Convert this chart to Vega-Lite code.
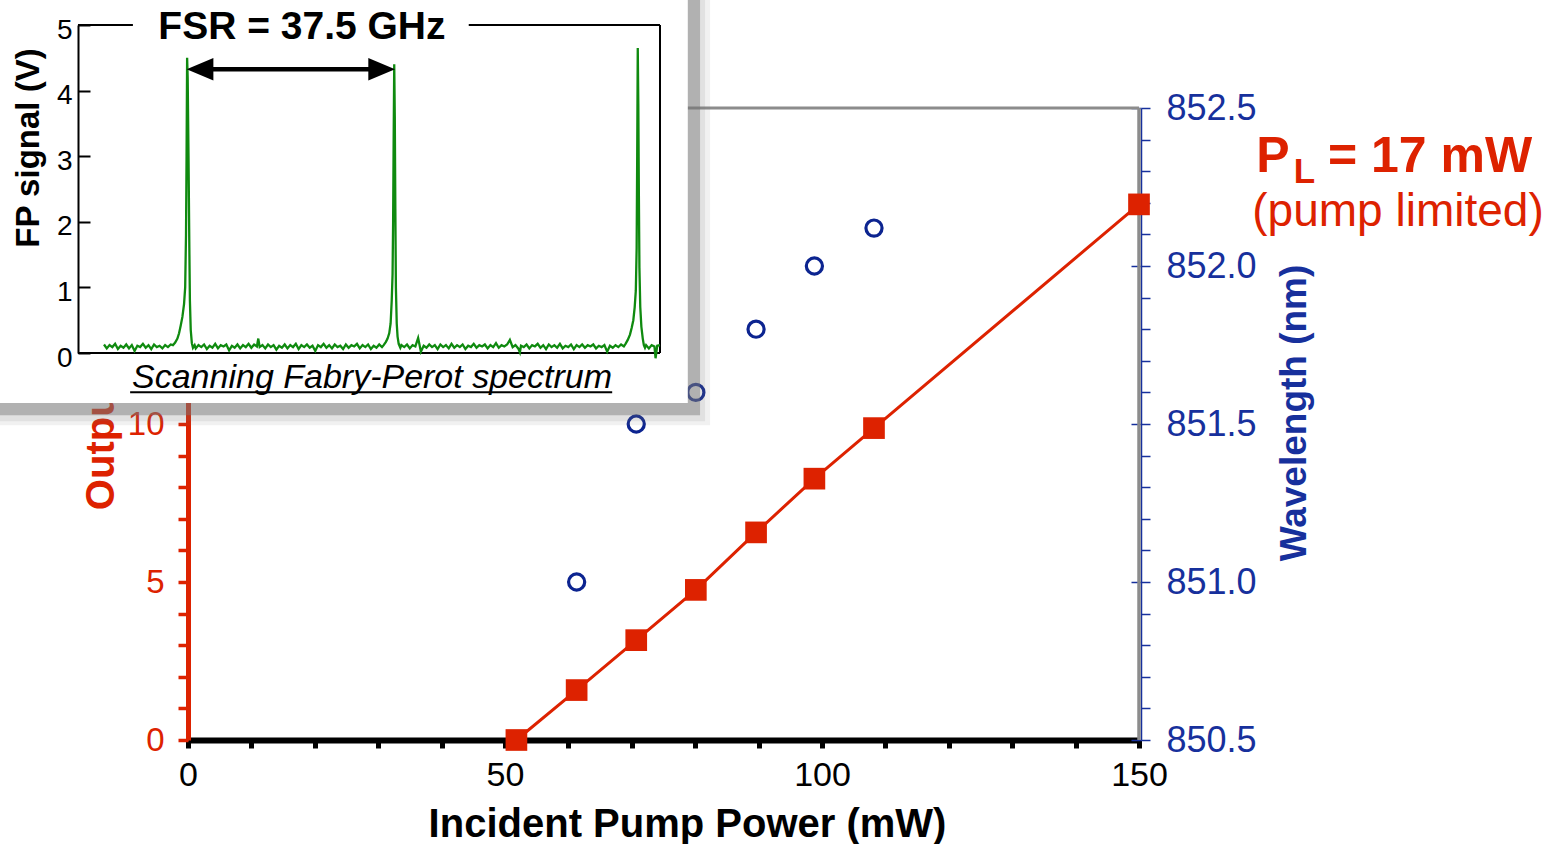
{
  "$schema": "https://vega.github.io/schema/vega-lite/v6.json",
  "width": 951,
  "height": 632,
  "autosize": {"type": "none"},
  "padding": {"left": 188, "top": 108, "right": 418, "bottom": 104},
  "background": "white",
  "config": {
    "font": "Liberation Sans",
    "view": {"stroke": null},
    "axis": {"grid": false, "labelOverlap": false, "labelFlush": false, "labelFont": "Liberation Sans", "titleFont": "Liberation Sans"}
  },
  "datasets": {
    "main": [
      {"power": 51.8, "output": 0},
      {"power": 61.3, "output": 1.58, "wavelength": 851.0},
      {"power": 70.7, "output": 3.16, "wavelength": 851.5},
      {"power": 80.1, "output": 4.75, "wavelength": 851.6},
      {"power": 89.6, "output": 6.57, "wavelength": 851.8},
      {"power": 98.8, "output": 8.27, "wavelength": 852.0},
      {"power": 108.2, "output": 9.87, "wavelength": 852.12},
      {"power": 150, "output": 16.95}
    ],
    "fp": [
      {"t":0,"v":0.13},{"t":0.5,"v":0.07},{"t":1,"v":0.12},{"t":1.5,"v":0.09},{"t":2,"v":0.14},{"t":2.5,"v":0.06},{"t":3,"v":0.11},{"t":3.5,"v":0.08},{"t":4,"v":0.13},{"t":4.5,"v":0.07},{"t":5,"v":0.12},{"t":5.5,"v":0.03},{"t":6,"v":0.11},{"t":6.5,"v":0.09},{"t":7,"v":0.14},{"t":7.5,"v":0.08},{"t":8,"v":0.12},{"t":8.5,"v":0.06},{"t":9,"v":0.13},{"t":9.5,"v":0.09},{"t":10,"v":0.11},{"t":10.5,"v":0.07},{"t":11,"v":0.12},{"t":11.5,"v":0.09},{"t":12,"v":0.13},
      {"t":12.4,"v":0.12},{"t":12.8,"v":0.16},{"t":13.2,"v":0.22},{"t":13.5,"v":0.3},{"t":13.8,"v":0.42},{"t":14.1,"v":0.55},{"t":14.4,"v":0.75},{"t":14.6,"v":1.0},{"t":14.75,"v":1.8},{"t":14.85,"v":3.0},{"t":14.95,"v":4.5},{"t":15.05,"v":4.2},{"t":15.2,"v":3.0},{"t":15.35,"v":1.6},{"t":15.45,"v":0.8},{"t":15.6,"v":0.35},{"t":15.8,"v":0.15},{"t":16,"v":0.08},{"t":16.3,"v":0.12},
      {"t":16.5,"v":0.07},{"t":17,"v":0.12},{"t":17.5,"v":0.09},{"t":18,"v":0.13},{"t":18.5,"v":0.06},{"t":19,"v":0.11},{"t":19.5,"v":0.08},{"t":20,"v":0.14},{"t":20.5,"v":0.07},{"t":21,"v":0.12},{"t":21.5,"v":0.1},{"t":22,"v":0.13},{"t":22.5,"v":0.04},{"t":23,"v":0.11},{"t":23.5,"v":0.08},{"t":24,"v":0.13},{"t":24.5,"v":0.07},{"t":25,"v":0.12},{"t":25.5,"v":0.09},{"t":26,"v":0.14},{"t":26.5,"v":0.08},{"t":27,"v":0.13},{"t":27.5,"v":0.1},{"t":27.75,"v":0.22},{"t":28,"v":0.09},{"t":28.5,"v":0.12},{"t":29,"v":0.07},{"t":29.5,"v":0.13},{"t":30,"v":0.09},{"t":30.5,"v":0.12},{"t":31,"v":0.05},{"t":31.5,"v":0.11},{"t":32,"v":0.08},{"t":32.5,"v":0.13},{"t":33,"v":0.07},{"t":33.5,"v":0.12},{"t":34,"v":0.09},{"t":34.5,"v":0.14},{"t":35,"v":0.06},{"t":35.5,"v":0.12},{"t":36,"v":0.09},{"t":36.5,"v":0.13},{"t":37,"v":0.08},{"t":37.5,"v":0.11},{"t":38,"v":0.03},{"t":38.5,"v":0.12},{"t":39,"v":0.09},{"t":39.5,"v":0.14},{"t":40,"v":0.08},{"t":40.5,"v":0.12},{"t":41,"v":0.07},{"t":41.5,"v":0.13},{"t":42,"v":0.09},{"t":42.5,"v":0.11},{"t":43,"v":0.06},{"t":43.5,"v":0.13},{"t":44,"v":0.08},{"t":44.5,"v":0.12},{"t":45,"v":0.1},{"t":45.5,"v":0.14},{"t":46,"v":0.07},{"t":46.5,"v":0.12},{"t":47,"v":0.09},{"t":47.5,"v":0.13},{"t":48,"v":0.06},{"t":48.5,"v":0.11},{"t":49,"v":0.08},{"t":49.5,"v":0.13},{"t":50,"v":0.09},
      {"t":50.3,"v":0.12},{"t":50.7,"v":0.17},{"t":51,"v":0.22},{"t":51.3,"v":0.3},{"t":51.55,"v":0.45},{"t":51.75,"v":0.8},{"t":51.9,"v":1.2},{"t":52,"v":2.0},{"t":52.1,"v":3.3},{"t":52.2,"v":4.4},{"t":52.3,"v":3.6},{"t":52.4,"v":2.2},{"t":52.5,"v":1.0},{"t":52.65,"v":0.45},{"t":52.8,"v":0.25},{"t":53,"v":0.14},{"t":53.3,"v":0.08},
      {"t":53.5,"v":0.12},{"t":54,"v":0.09},{"t":54.5,"v":0.13},{"t":55,"v":0.07},{"t":55.5,"v":0.12},{"t":56,"v":0.1},{"t":56.5,"v":0.23},{"t":57,"v":0.02},{"t":57.5,"v":0.11},{"t":58,"v":0.08},{"t":58.5,"v":0.13},{"t":59,"v":0.09},{"t":59.5,"v":0.12},{"t":60,"v":0.06},{"t":60.5,"v":0.13},{"t":61,"v":0.09},{"t":61.5,"v":0.12},{"t":62,"v":0.07},{"t":62.5,"v":0.14},{"t":63,"v":0.08},{"t":63.5,"v":0.12},{"t":64,"v":0.09},{"t":64.5,"v":0.13},{"t":65,"v":0.06},{"t":65.5,"v":0.11},{"t":66,"v":0.09},{"t":66.5,"v":0.14},{"t":67,"v":0.08},{"t":67.5,"v":0.12},{"t":68,"v":0.1},{"t":68.5,"v":0.13},{"t":69,"v":0.07},{"t":69.5,"v":0.12},{"t":70,"v":0.09},{"t":70.5,"v":0.15},{"t":71,"v":0.08},{"t":71.5,"v":0.12},{"t":72,"v":0.1},{"t":72.5,"v":0.13},{"t":73,"v":0.2},{"t":73.5,"v":0.09},{"t":74,"v":0.12},{"t":74.5,"v":0.07},{"t":74.8,"v":0.01},{"t":75,"v":0.11},{"t":75.5,"v":0.09},{"t":76,"v":0.13},{"t":76.5,"v":0.07},{"t":77,"v":0.12},{"t":77.5,"v":0.1},{"t":78,"v":0.14},{"t":78.5,"v":0.08},{"t":79,"v":0.12},{"t":79.5,"v":0.06},{"t":80,"v":0.13},{"t":80.5,"v":0.09},{"t":81,"v":0.12},{"t":81.5,"v":0.08},{"t":82,"v":0.14},{"t":82.5,"v":0.07},{"t":83,"v":0.11},{"t":83.5,"v":0.09},{"t":84,"v":0.13},{"t":84.5,"v":0.06},{"t":85,"v":0.12},{"t":85.5,"v":0.09},{"t":86,"v":0.13},{"t":86.5,"v":0.08},{"t":87,"v":0.12},{"t":87.5,"v":0.1},{"t":88,"v":0.13},{"t":88.5,"v":0.07},{"t":89,"v":0.11},{"t":89.5,"v":0.09},{"t":90,"v":0.12},{"t":90.5,"v":0.02},{"t":91,"v":0.11},{"t":91.5,"v":0.08},{"t":92,"v":0.12},{"t":92.5,"v":0.09},{"t":93,"v":0.13},{"t":93.5,"v":0.1},
      {"t":93.8,"v":0.14},{"t":94.2,"v":0.2},{"t":94.6,"v":0.28},{"t":94.9,"v":0.38},{"t":95.2,"v":0.5},{"t":95.45,"v":0.7},{"t":95.65,"v":0.95},{"t":95.8,"v":1.6},{"t":95.9,"v":3.0},{"t":96,"v":4.65},{"t":96.1,"v":3.8},{"t":96.2,"v":2.4},{"t":96.3,"v":1.3},{"t":96.45,"v":0.7},{"t":96.65,"v":0.4},{"t":96.9,"v":0.22},{"t":97.1,"v":0.12},{"t":97.3,"v":0.08},
      {"t":97.5,"v":0.12},{"t":98,"v":0.07},{"t":98.5,"v":0.12},{"t":99,"v":0.1},{"t":99.2,"v":-0.08},{"t":99.5,"v":0.11},{"t":100,"v":0.12}
    ]
  },
  "layer": [
    {
      "data": {"name": "main"},
      "resolve": {"axis": {"x": "independent", "y": "independent"}},
      "layer": [
        {
          "data": {"values": [{}]},
          "mark": {"type": "rule", "color": "#8c8c8c", "strokeWidth": 3},
          "encoding": {
            "x": {"datum": 0, "type": "quantitative", "scale": {"domain": [0, 150], "nice": false, "zero": false}, "axis": null},
            "x2": {"datum": 150},
            "y": {"datum": 20, "type": "quantitative", "scale": {"domain": [0, 20], "nice": false, "zero": false}, "axis": null}
          }
        },
        {
          "data": {"values": [{}]},
          "mark": {"type": "rule", "color": "#8c8c8c", "strokeWidth": 3.5},
          "encoding": {
            "x": {"datum": 150, "type": "quantitative", "scale": {"domain": [0, 150], "nice": false, "zero": false}, "axis": null},
            "y": {"datum": 0, "type": "quantitative", "scale": {"domain": [0, 20], "nice": false, "zero": false}, "axis": null},
            "y2": {"datum": 20}
          }
        },
        {
          "mark": {"type": "line", "color": "#dd2200", "strokeWidth": 3},
          "encoding": {
            "x": {
              "field": "power", "type": "quantitative",
              "scale": {"domain": [0, 150], "nice": false, "zero": false},
              "axis": {
                "orient": "bottom",
                "values": [0, 10, 20, 30, 40, 50, 60, 70, 80, 90, 100, 110, 120, 130, 140, 150],
                "labelExpr": "datum.value % 50 === 0 ? datum.label : ''",
                "domainColor": "black", "domainWidth": 6,
                "tickColor": "black", "tickWidth": 5, "tickSize": 8,
                "labelColor": "black", "labelFontSize": 34, "labelPadding": 10,
                "title": "Incident Pump Power (mW)", "titleColor": "black", "titleFontSize": 40, "titleFontWeight": "bold",
                "titleX": 499, "titleY": 96, "titleAlign": "center", "titleBaseline": "alphabetic"
              }
            },
            "y": {
              "field": "output", "type": "quantitative",
              "scale": {"domain": [0, 20], "nice": false, "zero": false},
              "axis": {
                "orient": "left",
                "values": [0, 1, 2, 3, 4, 5, 6, 7, 8, 9, 10, 11, 12, 13, 14, 15, 16, 17, 18, 19, 20],
                "labelExpr": "datum.value % 5 === 0 ? datum.label : ''",
                "domainColor": "#dd2200", "domainWidth": 5,
                "tickColor": "#dd2200", "tickWidth": 3.5, "tickSize": 10,
                "labelColor": "#dd2200", "labelFontSize": 33, "labelPadding": 14,
                "title": "Output Power (mW)", "titleColor": "#dd2200", "titleFontSize": 40, "titleFontWeight": "bold",
                "titleAngle": 270, "titleX": -75, "titleY": 215, "titleAlign": "center", "titleBaseline": "alphabetic"
              }
            }
          }
        },
        {
          "mark": {"type": "point", "shape": "square", "filled": true, "size": 470, "color": "#dd2200", "opacity": 1},
          "encoding": {
            "x": {"field": "power", "type": "quantitative", "scale": {"domain": [0, 150], "nice": false, "zero": false}, "axis": null},
            "y": {"field": "output", "type": "quantitative", "scale": {"domain": [0, 20], "nice": false, "zero": false}, "axis": null}
          }
        },
        {
          "data": {"values": [{}]},
          "mark": {"type": "text", "text": "P", "fontSize": 50, "fontWeight": "bold", "color": "#dd2200", "align": "left", "baseline": "alphabetic"},
          "encoding": {
            "x": {"datum": 168.5, "type": "quantitative", "scale": {"domain": [0, 150], "nice": false, "zero": false}, "axis": null},
            "y": {"datum": 17.98, "type": "quantitative", "scale": {"domain": [0, 20], "nice": false, "zero": false}, "axis": null}
          }
        },
        {
          "data": {"values": [{}]},
          "mark": {"type": "text", "text": "L", "fontSize": 35, "fontWeight": "bold", "color": "#dd2200", "align": "left", "baseline": "alphabetic"},
          "encoding": {
            "x": {"datum": 174.4, "type": "quantitative", "scale": {"domain": [0, 150], "nice": false, "zero": false}, "axis": null},
            "y": {"datum": 17.62, "type": "quantitative", "scale": {"domain": [0, 20], "nice": false, "zero": false}, "axis": null}
          }
        },
        {
          "data": {"values": [{}]},
          "mark": {"type": "text", "text": "= 17 mW", "fontSize": 50, "fontWeight": "bold", "color": "#dd2200", "align": "left", "baseline": "alphabetic"},
          "encoding": {
            "x": {"datum": 179.8, "type": "quantitative", "scale": {"domain": [0, 150], "nice": false, "zero": false}, "axis": null},
            "y": {"datum": 17.98, "type": "quantitative", "scale": {"domain": [0, 20], "nice": false, "zero": false}, "axis": null}
          }
        },
        {
          "data": {"values": [{}]},
          "mark": {"type": "text", "text": "(pump limited)", "fontSize": 46, "color": "#dd2200", "align": "center", "baseline": "alphabetic"},
          "encoding": {
            "x": {"datum": 190.85, "type": "quantitative", "scale": {"domain": [0, 150], "nice": false, "zero": false}, "axis": null},
            "y": {"datum": 16.28, "type": "quantitative", "scale": {"domain": [0, 20], "nice": false, "zero": false}, "axis": null}
          }
        }
      ]
    },
    {
      "data": {"name": "main"},
      "layer": [
        {
          "mark": {"type": "point", "shape": "circle", "filled": false, "size": 260, "strokeWidth": 3.2, "color": "#0c2490", "opacity": 1},
          "encoding": {
            "x": {"field": "power", "type": "quantitative", "scale": {"domain": [0, 150], "nice": false, "zero": false}, "axis": null},
            "y": {
              "field": "wavelength", "type": "quantitative",
              "scale": {"domain": [850.5, 852.5], "nice": false, "zero": false},
              "axis": {
                "orient": "right", "offset": 2,
                "values": [850.5, 850.6, 850.7, 850.8, 850.9, 851.0, 851.1, 851.2, 851.3, 851.4, 851.5, 851.6, 851.7, 851.8, 851.9, 852.0, 852.1, 852.2, 852.3, 852.4, 852.5],
                "labelExpr": "abs(datum.value * 2 - round(datum.value * 2)) < 0.001 ? format(datum.value, '.1f') : ''",
                "domainColor": "#17309c", "domainWidth": 1.5,
                "tickColor": "#17309c", "tickWidth": 1.5, "tickSize": 9,
                "labelColor": "#17309c", "labelFontSize": 36, "labelPadding": 16,
                "title": "Wavelength (nm)", "titleColor": "#17309c", "titleFontSize": 37, "titleFontWeight": "bold",
                "titleAngle": 270, "titleX": 164, "titleY": 304.5, "titleAlign": "center", "titleBaseline": "alphabetic"
              }
            }
          }
        },
        {
          "mark": {"type": "point", "shape": "circle", "filled": false, "size": 260, "opacity": 0},
          "encoding": {
            "x": {"field": "power", "type": "quantitative", "scale": {"domain": [0, 150], "nice": false, "zero": false}, "axis": null},
            "y": {
              "field": "wavelength", "type": "quantitative",
              "scale": {"domain": [850.5, 852.5], "nice": false, "zero": false},
              "axis": {
                "orient": "right", "offset": 2,
                "values": [850.5, 851.0, 851.5, 852.0, 852.5],
                "labels": false, "domain": false, "title": null,
                "tickColor": "#17309c", "tickWidth": 1.5, "tickSize": -10
              }
            }
          }
        }
      ],
      "resolve": {"axis": {"x": "independent", "y": "independent"}}
    },
    {
      "resolve": {"axis": {"x": "independent", "y": "independent"}},
      "layer": [
        {
          "data": {"values": [{}]},
          "mark": {"type": "rect", "color": "#777777", "opacity": 0.1},
          "encoding": {
            "x": {"datum": -20, "type": "quantitative", "scale": {"domain": [0, 100], "range": [-84, 472], "nice": false, "zero": false}, "axis": null},
            "x2": {"datum": 109},
            "y": {"datum": 5.5, "type": "quantitative", "scale": {"domain": [0, 5], "range": [245, -83], "nice": false, "zero": false}, "axis": null},
            "y2": {"datum": -1.1}
          }
        },
        {
          "data": {"values": [{}]},
          "mark": {"type": "rect", "color": "#777777", "opacity": 0.12},
          "encoding": {
            "x": {"datum": -20, "type": "quantitative", "scale": {"domain": [0, 100], "range": [-84, 472], "nice": false, "zero": false}, "axis": null},
            "x2": {"datum": 108.1},
            "y": {"datum": 5.5, "type": "quantitative", "scale": {"domain": [0, 5], "range": [245, -83], "nice": false, "zero": false}, "axis": null},
            "y2": {"datum": -1.04}
          }
        },
        {
          "data": {"values": [{}]},
          "mark": {"type": "rect", "color": "#777777", "opacity": 0.45},
          "encoding": {
            "x": {"datum": -20, "type": "quantitative", "scale": {"domain": [0, 100], "range": [-84, 472], "nice": false, "zero": false}, "axis": null},
            "x2": {"datum": 107.2},
            "y": {"datum": 5.5, "type": "quantitative", "scale": {"domain": [0, 5], "range": [245, -83], "nice": false, "zero": false}, "axis": null},
            "y2": {"datum": -0.95}
          }
        },
        {
          "data": {"values": [{}]},
          "mark": {"type": "rect", "color": "white", "opacity": 1},
          "encoding": {
            "x": {"datum": -20, "type": "quantitative", "scale": {"domain": [0, 100], "range": [-84, 472], "nice": false, "zero": false}, "axis": null},
            "x2": {"datum": 105},
            "y": {"datum": 5.5, "type": "quantitative", "scale": {"domain": [0, 5], "range": [245, -83], "nice": false, "zero": false}, "axis": null},
            "y2": {"datum": -0.762}
          }
        },
        {
          "data": {"values": [{}]},
          "mark": {"type": "rule", "color": "black", "strokeWidth": 2},
          "encoding": {
            "x": {"datum": -4.68, "type": "quantitative", "scale": {"domain": [0, 100], "range": [-84, 472], "nice": false, "zero": false}, "axis": null},
            "x2": {"datum": 100},
            "y": {"datum": 0, "type": "quantitative", "scale": {"domain": [0, 5], "range": [245, -83], "nice": false, "zero": false}, "axis": null}
          }
        },
        {
          "data": {"values": [{}]},
          "mark": {"type": "rule", "color": "black", "strokeWidth": 2},
          "encoding": {
            "x": {"datum": 100, "type": "quantitative", "scale": {"domain": [0, 100], "range": [-84, 472], "nice": false, "zero": false}, "axis": null},
            "y": {"datum": 0, "type": "quantitative", "scale": {"domain": [0, 5], "range": [245, -83], "nice": false, "zero": false}, "axis": null},
            "y2": {"datum": 5}
          }
        },
        {
          "data": {"values": [{}]},
          "mark": {"type": "rule", "color": "black", "strokeWidth": 2},
          "encoding": {
            "x": {"datum": -4.68, "type": "quantitative", "scale": {"domain": [0, 100], "range": [-84, 472], "nice": false, "zero": false}, "axis": null},
            "x2": {"datum": 5.2},
            "y": {"datum": 5, "type": "quantitative", "scale": {"domain": [0, 5], "range": [245, -83], "nice": false, "zero": false}, "axis": null}
          }
        },
        {
          "data": {"values": [{}]},
          "mark": {"type": "rule", "color": "black", "strokeWidth": 2},
          "encoding": {
            "x": {"datum": 65.6, "type": "quantitative", "scale": {"domain": [0, 100], "range": [-84, 472], "nice": false, "zero": false}, "axis": null},
            "x2": {"datum": 100},
            "y": {"datum": 5, "type": "quantitative", "scale": {"domain": [0, 5], "range": [245, -83], "nice": false, "zero": false}, "axis": null}
          }
        },
        {
          "data": {"name": "fp"},
          "mark": {"type": "line", "color": "#0f8a0f", "strokeWidth": 2.3},
          "encoding": {
            "x": {"field": "t", "type": "quantitative", "scale": {"domain": [0, 100], "range": [-84, 472], "nice": false, "zero": false}, "axis": null},
            "y": {
              "field": "v", "type": "quantitative",
              "scale": {"domain": [0, 5], "range": [245, -83], "nice": false, "zero": false},
              "axis": {
                "orient": "left", "offset": 110, "zindex": 1,
                "values": [0, 1, 2, 3, 4, 5],
                "domainColor": "black", "domainWidth": 2,
                "tickColor": "black", "tickWidth": 2, "tickSize": -12,
                "labelColor": "black", "labelFontSize": 28, "labelPadding": 18, "labelOffset": 5,
                "title": "FP signal (V)", "titleColor": "black", "titleFontSize": 33, "titleFontWeight": "bold",
                "titleAngle": 270, "titleX": -40, "titleY": 39.5, "titleAlign": "center", "titleBaseline": "alphabetic"
              }
            }
          }
        },
        {
          "data": {"values": [{}]},
          "mark": {"type": "rule", "color": "black", "strokeWidth": 4.5},
          "encoding": {
            "x": {"datum": 17, "type": "quantitative", "scale": {"domain": [0, 100], "range": [-84, 472], "nice": false, "zero": false}, "axis": null},
            "x2": {"datum": 50.2},
            "y": {"datum": 4.325, "type": "quantitative", "scale": {"domain": [0, 5], "range": [245, -83], "nice": false, "zero": false}, "axis": null}
          }
        },
        {
          "data": {"values": [{}]},
          "mark": {"type": "point", "shape": "M0,0L2,-0.84L2,0.84Z", "filled": true, "size": 713, "color": "black", "opacity": 1, "strokeWidth": 0},
          "encoding": {
            "x": {"datum": 14.87, "type": "quantitative", "scale": {"domain": [0, 100], "range": [-84, 472], "nice": false, "zero": false}, "axis": null},
            "y": {"datum": 4.325, "type": "quantitative", "scale": {"domain": [0, 5], "range": [245, -83], "nice": false, "zero": false}, "axis": null}
          }
        },
        {
          "data": {"values": [{}]},
          "mark": {"type": "point", "shape": "M0,0L-2,-0.84L-2,0.84Z", "filled": true, "size": 713, "color": "black", "opacity": 1, "strokeWidth": 0},
          "encoding": {
            "x": {"datum": 52.34, "type": "quantitative", "scale": {"domain": [0, 100], "range": [-84, 472], "nice": false, "zero": false}, "axis": null},
            "y": {"datum": 4.325, "type": "quantitative", "scale": {"domain": [0, 5], "range": [245, -83], "nice": false, "zero": false}, "axis": null}
          }
        },
        {
          "data": {"values": [{}]},
          "mark": {"type": "text", "text": "FSR = 37.5 GHz", "fontSize": 39, "fontWeight": "bold", "color": "black", "align": "center", "baseline": "alphabetic"},
          "encoding": {
            "x": {"datum": 35.6, "type": "quantitative", "scale": {"domain": [0, 100], "range": [-84, 472], "nice": false, "zero": false}, "axis": null},
            "y": {"datum": 4.78, "type": "quantitative", "scale": {"domain": [0, 5], "range": [245, -83], "nice": false, "zero": false}, "axis": null}
          }
        },
        {
          "data": {"values": [{}]},
          "mark": {"type": "text", "text": "Scanning Fabry-Perot spectrum", "fontSize": 34, "fontStyle": "italic", "color": "black", "align": "center", "baseline": "alphabetic"},
          "encoding": {
            "x": {"datum": 48.2, "type": "quantitative", "scale": {"domain": [0, 100], "range": [-84, 472], "nice": false, "zero": false}, "axis": null},
            "y": {"datum": -0.54, "type": "quantitative", "scale": {"domain": [0, 5], "range": [245, -83], "nice": false, "zero": false}, "axis": null}
          }
        },
        {
          "data": {"values": [{}]},
          "mark": {"type": "rule", "color": "black", "strokeWidth": 2},
          "encoding": {
            "x": {"datum": 4.7, "type": "quantitative", "scale": {"domain": [0, 100], "range": [-84, 472], "nice": false, "zero": false}, "axis": null},
            "x2": {"datum": 91.4},
            "y": {"datum": -0.6, "type": "quantitative", "scale": {"domain": [0, 5], "range": [245, -83], "nice": false, "zero": false}, "axis": null}
          }
        }
      ]
    }
  ],
  "resolve": {
    "scale": {"x": "independent", "y": "independent"},
    "axis": {"x": "independent", "y": "independent"}
  }
}
